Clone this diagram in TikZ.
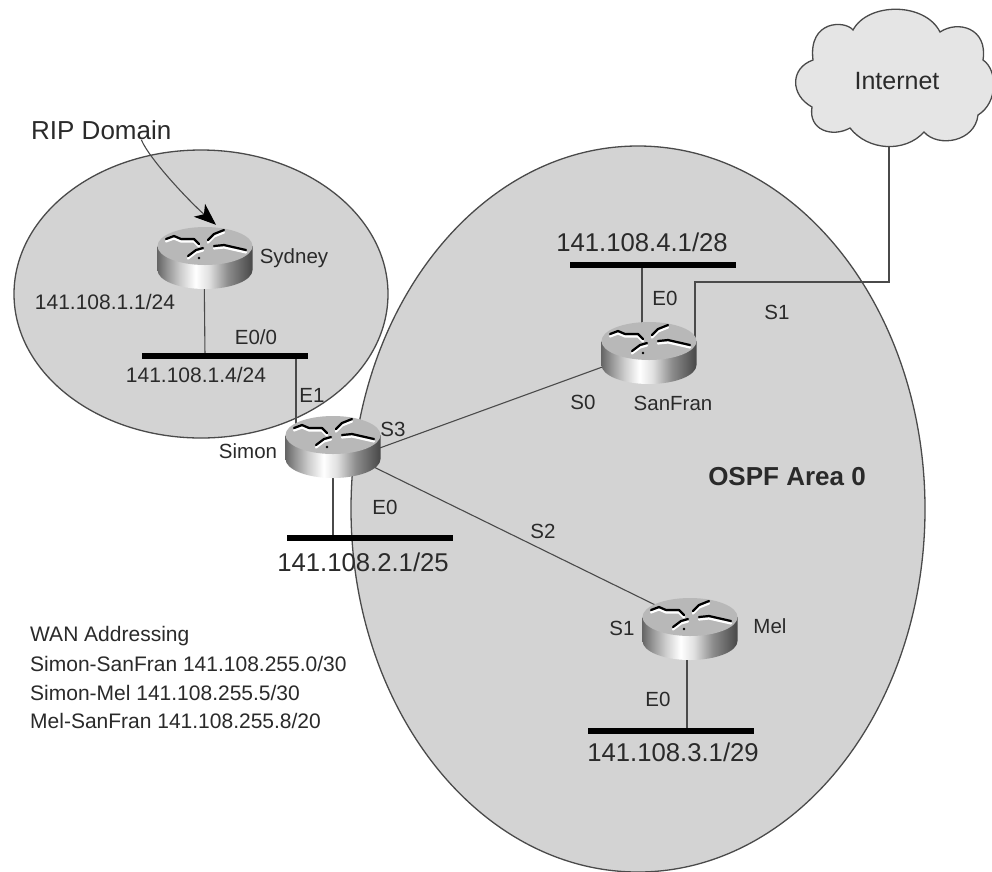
\documentclass[tikz,border=0pt]{standalone}
\usepackage{fontspec}
\setmainfont{Liberation Sans}
\usetikzlibrary{arrows.meta,calc}
\definecolor{zone}{HTML}{D3D3D3}
\definecolor{edge}{HTML}{4A4A4A}
\definecolor{txt}{HTML}{2A2A2A}
\pgfdeclarehorizontalshading{routershade}{100bp}{
  color(0bp)=(black!60); color(25bp)=(black!60); color(30bp)=(black!42); color(37bp)=(black!20);
  color(45bp)=(white); color(52bp)=(black!12); color(62bp)=(black!45); color(75bp)=(black!72); color(100bp)=(black!72)}
\tikzset{
  x=1pt,y=-1pt,
  zoneshape/.style={draw=edge,line width=1.3pt,fill=zone},
  link/.style={draw=edge,line width=1.1pt},
  netbar/.style={draw=none,fill=black,minimum width=166pt,minimum height=6pt,inner sep=0pt},
  routerbox/.style={minimum width=95pt,minimum height=62pt,inner sep=0pt,draw=none},
  small/.style={text=txt,inner sep=0pt,font=\fontsize{20.5}{25}\selectfont},
  wan/.style={text=txt,inner sep=0pt,anchor=west,font=\fontsize{21}{25}\selectfont},
  mid/.style={text=txt,inner sep=0pt,font=\fontsize{21}{25}\selectfont},
  large/.style={text=txt,inner sep=0pt,font=\fontsize{25.7}{30}\selectfont},
}
\newcommand{\drawrouter}[1]{%
  \begin{scope}[shift={(#1.center)}]
    \path[shading=routershade,draw=none] (-47.5,-12) -- (-47.5,12)
      arc[start angle=180,end angle=0,x radius=47.5,y radius=19] -- (47.5,-12) -- cycle;
    \fill[black!28] (0,-12) ellipse[x radius=47.5,y radius=19];
    \begin{scope}[yshift=11pt,line width=2.2pt,line cap=round,line join=round]
      \draw[white,shift={(0,2.5)}] (-39,-8) -- (-31,-11) -- (-24,-8) -- (-11,-8) -- (-6,-3);
      \draw[white,shift={(0,2.5)}] (3,-7) -- (9,-13) -- (19,-17);
      \draw[white,shift={(0,2.5)}] (9,-1) -- (19,-2) -- (41,3);
      \draw[white,shift={(0,2.5)}] (-2,1) -- (-9,3) -- (-17,9);
      \draw[black] (-39,-8) -- (-31,-11) -- (-24,-8) -- (-11,-8) -- (-6,-3);
      \draw[black] (3,-7) -- (9,-13) -- (19,-17);
      \draw[black] (9,-1) -- (19,-2) -- (41,3);
      \draw[black] (-2,1) -- (-9,3) -- (-17,9);
      \fill[black] (-6,11) circle[radius=1.3];
    \end{scope}
  \end{scope}}
\begin{document}
\begin{tikzpicture}
\clip (0,0) rectangle (992,871);
\fill[white] (0,0) rectangle (992,871);
% zones
\draw[zoneshape] (201,294) ellipse[x radius=187,y radius=144];
\draw[zoneshape] (638,509) ellipse[x radius=287,y radius=363];
% router anchors
\node[routerbox] (sydney) at (205,258) {};
\node[routerbox] (simon) at (333,447) {};
\node[routerbox] (sanfran) at (649,353) {};
\node[routerbox] (mel) at (690,629) {};
% networks
\node[netbar] (netsyd) at (225,356) {};
\node[netbar] (netsimon) at (370,538) {};
\node[netbar] (netsf) at (653,265) {};
\node[netbar] (netmel) at (671,731) {};
\coordinate (cloudport) at (889,120);
% links
\draw[link] ([xshift=-1pt]sydney.center) -- (sydney.center |- netsyd.center);
\draw[link] (simon.center -| 296,0) -- (296,356);
\draw[link] (simon.center) -- (simon.center |- netsimon.center);
\draw[link] ([yshift=-18pt]simon.center) -- ([yshift=3pt]sanfran.center);
\draw[link] (simon.center) -- ([yshift=7pt]mel.center);
\draw[link] (sanfran.center -| 642,0) -- (642,265);
\draw[link] ([xshift=-3pt]mel.center) -- (687,731);
\draw[link] (cloudport) -- (889,282) -- (695,282) -- (695,340);
% cloud
\draw[draw=edge,line width=1.3pt,fill=black!10] (853,30)
  .. controls (868,2) and (925,2) .. (940,32)
  .. controls (958,20) and (988,28) .. (983,60)
  .. controls (998,70) and (998,103) .. (978,115)
  .. controls (975,142) and (938,148) .. (924,132)
  .. controls (905,153) and (868,151) .. (850,128)
  .. controls (832,138) and (808,130) .. (812,107)
  .. controls (790,95) and (790,68) .. (813,60)
  .. controls (808,20) and (845,20) .. (853,30) -- cycle;
\node[inner sep=0pt,text=txt,font=\fontsize{25}{30}\selectfont] (internet) at (897,81) {Internet};
% bars on top of links
\fill[black] (netsyd.south west) rectangle (netsyd.north east);
\fill[black] (netsimon.south west) rectangle (netsimon.north east);
\fill[black] (netsf.south west) rectangle (netsf.north east);
\fill[black] (netmel.south west) rectangle (netmel.north east);
% routers
\drawrouter{sydney}
\drawrouter{simon}
\drawrouter{sanfran}
\drawrouter{mel}
% labels
\node[inner sep=0pt,anchor=west,text=txt,font=\fontsize{26}{30}\selectfont] (rip) at (31,130) {RIP Domain};
\draw[draw=edge,line width=1.1pt,-{Stealth[length=22pt,width=17pt,inset=6pt,black]}] ([xshift=40pt]rip.south) .. controls (150,160) and (190,202) .. ([xshift=11pt,yshift=2pt]sydney.north);
\node[small] (lsyd) at (294,258) {Sydney};
\node[mid] (a11) at (105,302) {141.108.1.1/24};
\node[small] (e00) at (256,337) {E0/0};
\node[mid] (a14) at (196,375) {141.108.1.4/24};
\node[small] (e1) at (312,395) {E1};
\node[small] (lsimon) at (248,451) {Simon};
\node[small] (s3) at (393,429) {S3};
\node[small] (e0s) at (385,507) {E0};
\node[large] (a21) at (363,562) {141.108.2.1/25};
\node[large] (a41) at (642,242) {141.108.4.1/28};
\node[small] (e0f) at (665,298) {E0};
\node[small] (s1f) at (777,312) {S1};
\node[small] (s0) at (583,402) {S0};
\node[small] (lsf) at (673,403) {SanFran};
\node[text=txt,inner sep=0pt,font=\bfseries\fontsize{26}{30}\selectfont] (ospf) at (787,477) {OSPF Area 0};
\node[small] (s2) at (543,531) {S2};
\node[small] (s1m) at (622,628) {S1};
\node[small] (lmel) at (770,626) {Mel};
\node[small] (e0m) at (658,699) {E0};
\node[large] (a31) at (673,752) {141.108.3.1/29};
\node[wan] (w1) at (30,636) {WAN Addressing};
\node[wan] (w2) at (30,664) {Simon-SanFran 141.108.255.0/30};
\node[wan] (w3) at (30,693) {Simon-Mel 141.108.255.5/30};
\node[wan] (w4) at (30,721) {Mel-SanFran 141.108.255.8/20};
\end{tikzpicture}
\end{document}
